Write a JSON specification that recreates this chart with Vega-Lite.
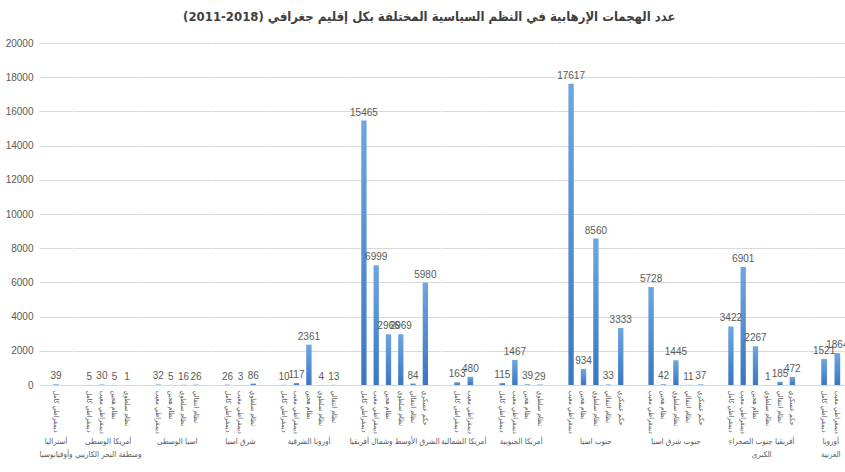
{
  "$schema": "https://vega.github.io/schema/vega-lite/v6.json",
  "padding": {"top": 11, "left": 5, "right": 5, "bottom": 0},
  "title": {"text": "(2011-2018) عدد الهجمات الإرهابية في النظم السياسية المختلفة بكل إقليم جغرافي", "font": "DejaVu Sans Condensed", "fontSize": 13, "fontWeight": "bold", "color": "#404040", "anchor": "middle", "offset": 14},
  "data": {"values": [
    {"region": "أستراليا وأوقيانوسيا", "regime": "ديمقراطي كامل", "value": 39},
    {"region": "أمريكا الوسطى ومنطقة البحر الكاريبي", "regime": "ديمقراطي كامل", "value": 5},
    {"region": "أمريكا الوسطى ومنطقة البحر الكاريبي", "regime": "ديمقراطي معيب", "value": 30},
    {"region": "أمريكا الوسطى ومنطقة البحر الكاريبي", "regime": "نظام هجين", "value": 5},
    {"region": "أمريكا الوسطى ومنطقة البحر الكاريبي", "regime": "نظام سلطوي", "value": 1},
    {"region": "اسيا الوسطى", "regime": "ديمقراطي معيب", "value": 32},
    {"region": "اسيا الوسطى", "regime": "نظام هجين", "value": 5},
    {"region": "اسيا الوسطى", "regime": "نظام سلطوي", "value": 16},
    {"region": "اسيا الوسطى", "regime": "نظام انتقالي", "value": 26},
    {"region": "شرق اسيا", "regime": "ديمقراطي كامل", "value": 26},
    {"region": "شرق اسيا", "regime": "ديمقراطي معيب", "value": 3},
    {"region": "شرق اسيا", "regime": "نظام سلطوي", "value": 86},
    {"region": "أوروبا الشرقية", "regime": "ديمقراطي كامل", "value": 10},
    {"region": "أوروبا الشرقية", "regime": "ديمقراطي معيب", "value": 117},
    {"region": "أوروبا الشرقية", "regime": "نظام هجين", "value": 2361},
    {"region": "أوروبا الشرقية", "regime": "نظام سلطوي", "value": 4},
    {"region": "أوروبا الشرقية", "regime": "نظام انتقالي", "value": 13},
    {"region": "الشرق الأوسط وشمال أفريقيا", "regime": "ديمقراطي كامل", "value": 15465},
    {"region": "الشرق الأوسط وشمال أفريقيا", "regime": "ديمقراطي معيب", "value": 6999},
    {"region": "الشرق الأوسط وشمال أفريقيا", "regime": "نظام هجين", "value": 2966},
    {"region": "الشرق الأوسط وشمال أفريقيا", "regime": "نظام سلطوي", "value": 2969},
    {"region": "الشرق الأوسط وشمال أفريقيا", "regime": "نظام انتقالي", "value": 84},
    {"region": "الشرق الأوسط وشمال أفريقيا", "regime": "حكم عسكري", "value": 5980},
    {"region": "أمريكا الشمالية", "regime": "ديمقراطي كامل", "value": 163},
    {"region": "أمريكا الشمالية", "regime": "ديمقراطي معيب", "value": 480},
    {"region": "أمريكا الجنوبية", "regime": "ديمقراطي كامل", "value": 115},
    {"region": "أمريكا الجنوبية", "regime": "ديمقراطي معيب", "value": 1467},
    {"region": "أمريكا الجنوبية", "regime": "نظام هجين", "value": 39},
    {"region": "أمريكا الجنوبية", "regime": "نظام سلطوي", "value": 29},
    {"region": "جنوب اسيا", "regime": "ديمقراطي معيب", "value": 17617},
    {"region": "جنوب اسيا", "regime": "نظام هجين", "value": 934},
    {"region": "جنوب اسيا", "regime": "نظام سلطوي", "value": 8560},
    {"region": "جنوب اسيا", "regime": "نظام انتقالي", "value": 33},
    {"region": "جنوب اسيا", "regime": "حكم عسكري", "value": 3333},
    {"region": "جنوب شرق اسيا", "regime": "ديمقراطي معيب", "value": 5728},
    {"region": "جنوب شرق اسيا", "regime": "نظام هجين", "value": 42},
    {"region": "جنوب شرق اسيا", "regime": "نظام سلطوي", "value": 1445},
    {"region": "جنوب شرق اسيا", "regime": "نظام انتقالي", "value": 11},
    {"region": "جنوب شرق اسيا", "regime": "حكم عسكري", "value": 37},
    {"region": "أفريقيا جنوب الصحراء الكبرى", "regime": "ديمقراطي كامل", "value": 3422},
    {"region": "أفريقيا جنوب الصحراء الكبرى", "regime": "ديمقراطي معيب", "value": 6901},
    {"region": "أفريقيا جنوب الصحراء الكبرى", "regime": "نظام هجين", "value": 2267},
    {"region": "أفريقيا جنوب الصحراء الكبرى", "regime": "نظام سلطوي", "value": 1},
    {"region": "أفريقيا جنوب الصحراء الكبرى", "regime": "نظام انتقالي", "value": 185},
    {"region": "أفريقيا جنوب الصحراء الكبرى", "regime": "حكم عسكري", "value": 472},
    {"region": "أوروبا الغربية", "regime": "ديمقراطي كامل", "value": 1521},
    {"region": "أوروبا الغربية", "regime": "ديمقراطي معيب", "value": 1864}
  ]},
  "facet": {
    "column": {
      "field": "region",
      "type": "nominal",
      "title": null,
      "sort": ["أستراليا وأوقيانوسيا", "أمريكا الوسطى ومنطقة البحر الكاريبي", "اسيا الوسطى", "شرق اسيا", "أوروبا الشرقية", "الشرق الأوسط وشمال أفريقيا", "أمريكا الشمالية", "أمريكا الجنوبية", "جنوب اسيا", "جنوب شرق اسيا", "أفريقيا جنوب الصحراء الكبرى", "أوروبا الغربية"],
      "header": {
        "labelOrient": "bottom",
        "labelFont": "DejaVu Sans Condensed",
        "labelFontSize": 8,
        "labelColor": "#595959",
        "labelPadding": 4,
        "labelLineHeight": 13,
        "labelExpr": "datum.value == 'أستراليا وأوقيانوسيا' ? ['أستراليا', 'وأوقيانوسيا'] : datum.value == 'أمريكا الوسطى ومنطقة البحر الكاريبي' ? ['أمريكا الوسطى', 'ومنطقة البحر الكاريبي'] : datum.value == 'أفريقيا جنوب الصحراء الكبرى' ? ['أفريقيا جنوب الصحراء', 'الكبرى'] : datum.value == 'أوروبا الغربية' ? ['أوروبا', 'الغربية'] : datum.value"
      }
    }
  },
  "spacing": 0,
  "resolve": {"scale": {"x": "independent"}},
  "spec": {
    "width": {"step": 11.45},
    "height": 342,
    "encoding": {
      "x": {
        "field": "regime",
        "type": "nominal",
        "sort": ["ديمقراطي كامل", "ديمقراطي معيب", "نظام هجين", "نظام سلطوي", "نظام انتقالي", "حكم عسكري"],
        "scale": {"paddingInner": 0.57, "paddingOuter": 1.27},
        "axis": {"title": null, "labelAngle": 90, "labelFont": "DejaVu Sans Condensed", "labelFontSize": 7, "labelColor": "#595959", "ticks": false, "domainColor": "#d9d9d9", "labelPadding": 5}
      },
      "y": {
        "field": "value",
        "type": "quantitative",
        "scale": {"domain": [0, 20000], "nice": false},
        "axis": {"title": null, "domain": false, "ticks": false, "values": [0, 2000, 4000, 6000, 8000, 10000, 12000, 14000, 16000, 18000, 20000], "format": "d", "labelColor": "#595959", "labelFontSize": 10, "labelFont": "Liberation Sans", "gridColor": "#d9d9d9", "labelPadding": 6}
      }
    },
    "layer": [
      {
        "mark": {"type": "bar", "color": {"gradient": "linear", "x1": 0, "y1": 0, "x2": 0, "y2": 1, "stops": [{"offset": 0, "color": "#6da6e0"}, {"offset": 1, "color": "#3a77c2"}]}}
      },
      {
        "mark": {"type": "text", "baseline": "bottom", "dy": -3, "font": "Liberation Sans", "fontSize": 10, "color": "#595959"},
        "encoding": {"text": {"field": "value", "type": "quantitative", "format": "d"}}
      }
    ]
  },
  "config": {"view": {"stroke": null}, "background": "white"}
}
